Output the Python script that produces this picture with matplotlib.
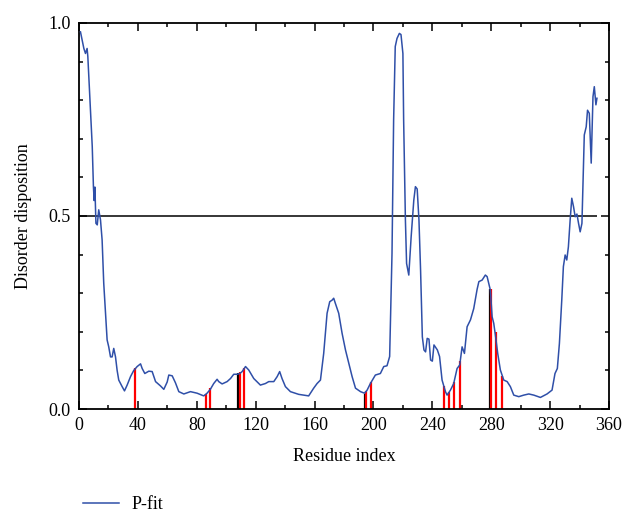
import numpy as np
import matplotlib
matplotlib.use("Agg")
from matplotlib import pyplot as plt
from matplotlib.ticker import MultipleLocator

plt.rcParams["font.family"] = ["Liberation Serif", "DejaVu Serif"]

# ----------------------------------------------------
# Data
# ----------------------------------------------------
residue = [1, 3.3, 4.4, 5.5, 6, 7.8, 9, 9.8, 10.3, 10.8, 11.5, 12.4, 13.4, 14.6, 15.7,
           16.8, 18, 19.1, 20.2, 21.4, 22.5, 23.6, 24.8, 25.9, 27, 29.3, 30.9, 32.7, 35,
           37.2, 39.5, 41.8, 42.9, 44.7, 47.4, 49.7, 52, 55.3, 57.6, 59.9, 61, 63.3, 65.5,
           67.8, 71.2, 75.7, 80.2, 84.7, 87, 89.2, 91.5, 93.8, 94.9, 97.2, 100.6, 102.9,
           105.1, 107.4, 109.2, 110.8, 113.1, 115.3, 118.7, 123.2, 126.6, 128.9, 132.3,
           134.6, 136.3, 137.9, 140.2, 143.6, 149.2, 156, 159.4, 161.7, 164, 166.2, 168.5,
           170.3, 171.9, 173, 174.1, 176.4, 178.7, 181, 183.3, 185.5, 187.8, 191.2, 193.9,
           195.7, 197.9, 201.3, 204.7, 207, 209.2, 211, 212.6, 213.7, 214.8, 216, 217.6,
           218.7, 220, 220.5, 221.7, 222.5, 224, 225.6, 227.4, 228.5, 229.7, 230.9, 232,
           233.2, 234.3, 235.4, 236.5, 237.7, 238.8, 240, 241.1, 243.4, 244.9, 246.6,
           248.9, 250, 252.3, 254.5, 256.8, 258.6, 260.2, 261.8, 263.6, 265.9, 268.1,
           270.4, 271.6, 273.8, 276, 277.2, 279.4, 280.6, 281.7, 282.8, 284.4, 286.2,
           288.5, 290.8, 293, 295.3, 298.7, 302.1, 305.5, 308.9, 313.4, 317.9, 321.3,
           323.3, 324.9, 326.3, 327.9, 329, 330.2, 331.3, 332.4, 333.6, 334.7, 335.9, 337,
           338.2, 339.3, 340.4, 341.6, 342.7, 343.2, 344.5, 345.4, 346.6, 347.9, 349.1,
           350, 351.1, 351.8]
pfit = [0.977, 0.934, 0.921, 0.934, 0.913, 0.775, 0.68, 0.576, 0.54, 0.575, 0.481, 0.477,
        0.516, 0.49, 0.438, 0.326, 0.249, 0.179, 0.161, 0.135, 0.135, 0.157, 0.135, 0.10,
        0.075, 0.058, 0.047, 0.062, 0.084, 0.10, 0.11, 0.117, 0.105, 0.092, 0.098, 0.097,
        0.071, 0.06, 0.051, 0.07, 0.088, 0.086, 0.068, 0.045, 0.039, 0.045, 0.041, 0.034,
        0.041, 0.051, 0.066, 0.077, 0.071, 0.065, 0.071, 0.079, 0.09, 0.09, 0.092, 0.097,
        0.11, 0.101, 0.079, 0.062, 0.066, 0.071, 0.071, 0.084, 0.097, 0.079, 0.058, 0.045,
        0.038, 0.034, 0.054, 0.066, 0.075, 0.144, 0.248, 0.278, 0.282, 0.287, 0.274, 0.248,
        0.196, 0.153, 0.118, 0.084, 0.054, 0.045, 0.041, 0.049, 0.066, 0.088, 0.092, 0.11,
        0.112, 0.136, 0.403, 0.749, 0.939, 0.96, 0.973, 0.97, 0.921, 0.749, 0.49, 0.377,
        0.347, 0.446, 0.541, 0.576, 0.57, 0.49, 0.36, 0.187, 0.153, 0.148, 0.183, 0.181,
        0.127, 0.124, 0.166, 0.153, 0.136, 0.075, 0.045, 0.036, 0.049, 0.066, 0.105, 0.114,
        0.161, 0.144, 0.213, 0.231, 0.26, 0.31, 0.33, 0.334, 0.347, 0.343, 0.308, 0.239,
        0.222, 0.192, 0.144, 0.101, 0.075, 0.071, 0.058, 0.036, 0.032, 0.036, 0.039, 0.036,
        0.03, 0.039, 0.049, 0.092, 0.105, 0.17, 0.282, 0.369, 0.399, 0.386, 0.42, 0.49,
        0.546, 0.524, 0.498, 0.505, 0.481, 0.459, 0.481, 0.645, 0.71, 0.731, 0.774, 0.766,
        0.637, 0.809, 0.835, 0.788, 0.805]

# marked residues (vertical lines up to the curve)
mark_pos = [38, 86, 89, 108, 109.5, 112, 194, 195.2, 198, 248, 251, 255, 259, 279, 279.8, 283, 287]
mark_val = [0.105, 0.04, 0.054, 0.092, 0.095, 0.105, 0.04, 0.047, 0.071, 0.06, 0.045, 0.07,
            0.125, 0.31, 0.31, 0.20, 0.085]
mark_col = ["red", "red", "red", "black", "red", "red", "black", "red", "red", "red", "red",
            "red", "red", "black", "red", "red", "red"]

threshold = 0.5
threshold_end = 351.8

xticks = [0, 40, 80, 120, 160, 200, 240, 280, 320, 360]
yticks = [0.0, 0.5, 1.0]

# ----------------------------------------------------
# Plot
# ----------------------------------------------------
fig = plt.figure(figsize=(6.24, 5.13), dpi=100)
ax = fig.add_axes([0.1266, 0.2027, 0.8494, 0.7525])

line, = ax.plot(residue, pfit, color="#2f4fa8", lw=1.1, label="P-fit", zorder=3)
ax.vlines(mark_pos, 0, mark_val, colors=mark_col, lw=1.6, zorder=2)
ax.hlines(threshold, 0, threshold_end, color="black", lw=1.1, zorder=2)

ax.set_xlim(0, 360)
ax.set_ylim(0, 1.0)
ax.set_xticks(xticks)
ax.set_yticks(yticks)
ax.set_yticklabels([f"{v:.1f}" for v in yticks])
ax.xaxis.set_minor_locator(MultipleLocator(20))
ax.yaxis.set_minor_locator(MultipleLocator(0.1))
ax.tick_params(which="both", direction="in", top=True, right=True, labelsize=13, width=1.1)
ax.tick_params(which="major", length=6, pad=6)
ax.tick_params(which="minor", length=3)
for s in ax.spines.values():
    s.set_linewidth(1.3)

ax.set_xlabel("Residue index", fontsize=13, labelpad=10)
ax.set_ylabel("Disorder disposition", fontsize=13, labelpad=12)

fig.legend(handles=[line], loc="center left", bbox_to_anchor=(0.107, 0.016), frameon=False,
           fontsize=13, handlelength=2.0, handletextpad=0.7)

fig.savefig("out.png", dpi=100)
